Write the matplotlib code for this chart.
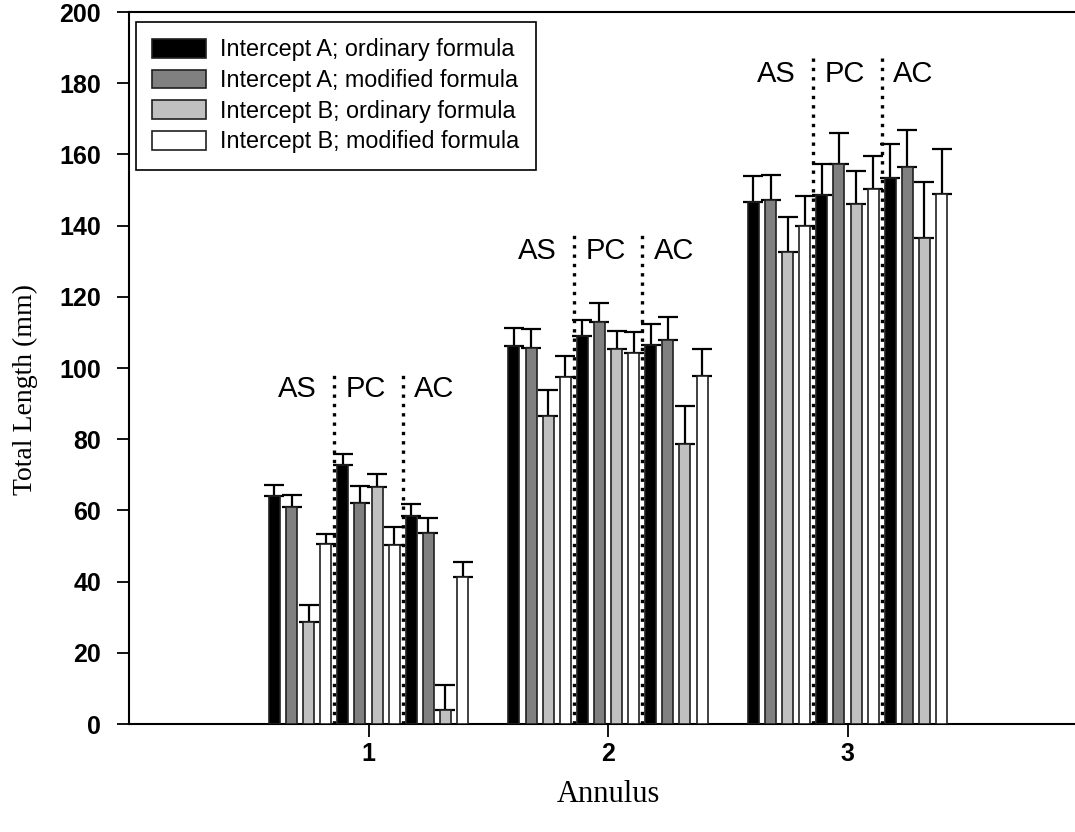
import numpy as np
import matplotlib.pyplot as plt
from matplotlib.patches import Patch

# mean total length (mm) per annulus, grouped AS / PC / AC
annulus = [1, 2, 3]
sites = ['AS', 'PC', 'AC']
series = ['Intercept A; ordinary formula', 'Intercept A; modified formula',
          'Intercept B; ordinary formula', 'Intercept B; modified formula']

ord_a = [[64.0, 72.8, 58.3], [106.3, 109.0, 106.6], [146.7, 148.6, 153.3]]
mod_a = [[61.0, 62.2, 53.7], [105.6, 113.0, 107.8], [147.1, 157.2, 156.6]]
ord_b = [[28.7, 66.7, 3.8], [86.4, 105.4, 78.6], [132.5, 146.2, 136.4]]
mod_b = [[50.6, 50.4, 41.2], [97.4, 104.3, 97.8], [140.0, 150.3, 149.0]]

# upper standard errors
err_ord_a = [[3.0, 3.0, 3.6], [5.0, 4.6, 5.9], [7.1, 8.7, 9.7]]
err_mod_a = [[3.3, 4.7, 4.3], [5.3, 5.3, 6.5], [7.1, 8.8, 10.2]]
err_ord_b = [[4.7, 3.4, 7.2], [7.4, 4.9, 10.8], [9.8, 9.1, 15.9]]
err_mod_b = [[2.9, 4.9, 4.4], [5.9, 5.7, 7.5], [8.2, 9.3, 12.5]]

# height of the dotted dividers between sites
divider_top = [99, 138, 187.5]

means = [ord_a, mod_a, ord_b, mod_b]
errs = [err_ord_a, err_mod_a, err_ord_b, err_mod_b]
colors = ['black', '#808080', '#c0c0c0', 'white']

pitch = 0.0714
width = 0.046

fig = plt.figure(figsize=(10.75, 8.32), dpi=100)
ax = fig.add_axes([129 / 1075, 108 / 832, 958 / 1075, 712 / 832])

for g, a in enumerate(annulus):
    for s in range(3):
        for k in range(4):
            idx = s * 4 + k
            x = a + (idx - 5.5) * pitch
            ax.bar(x, means[k][g][s], width, color=colors[k],
                   edgecolor='#202020', linewidth=1.2, zorder=3)
            ax.errorbar(x, means[k][g][s], yerr=[[0], [errs[k][g][s]]],
                        fmt='none', ecolor='black', elinewidth=1.6,
                        capsize=7.5, capthick=1.6, zorder=2)
        # site label above each block of four bars
        xc = a + (s * 4 + 1.5 - 5.5) * pitch
        ax.text(xc - 0.01, divider_top[g] - 5, sites[s], ha='center',
                va='center', fontsize=21, family='Liberation Sans')
    for d in (-2, 2):
        ax.plot([a + d * pitch] * 2, [0, divider_top[g]], color='black',
                linestyle=(0, (1, 1.8)), linewidth=2.4, zorder=4)

ax.set_xlim(0, 4)
ax.set_ylim(0, 200)
ax.set_xticks(annulus)
ax.set_xticklabels([str(a) for a in annulus])
ax.set_yticks(np.arange(0, 201, 20))
ax.spines['right'].set_visible(False)
for sp in ('left', 'bottom', 'top'):
    ax.spines[sp].set_linewidth(1.5)
ax.tick_params(direction='out', length=9, width=1.3, labelsize=18, pad=11)
ax.tick_params(axis='x', pad=4)
for lab in ax.get_xticklabels() + ax.get_yticklabels():
    lab.set_fontweight('bold')
    lab.set_family('Liberation Sans')

ax.set_xlabel('Annulus', fontsize=22, family='Liberation Serif', labelpad=10)
ax.set_ylabel('Total Length (mm)', fontsize=20, family='Liberation Serif')
ax.yaxis.set_label_coords(-0.095, 0.47)

handles = [Patch(facecolor=c, edgecolor='#202020', linewidth=1.2) for c in colors]
leg = ax.legend(handles, series, loc='upper left',
                bbox_to_anchor=(7 / 958, 1 - 10 / 712), borderaxespad=0,
                prop={'family': 'Liberation Sans', 'size': 16.8},
                handlelength=2.3, handleheight=0.85, handletextpad=0.6,
                labelspacing=0.33, borderpad=0.7, fancybox=False,
                edgecolor='black', framealpha=1)
leg.get_frame().set_linewidth(1.2)

fig.savefig('out.png', dpi=100)
